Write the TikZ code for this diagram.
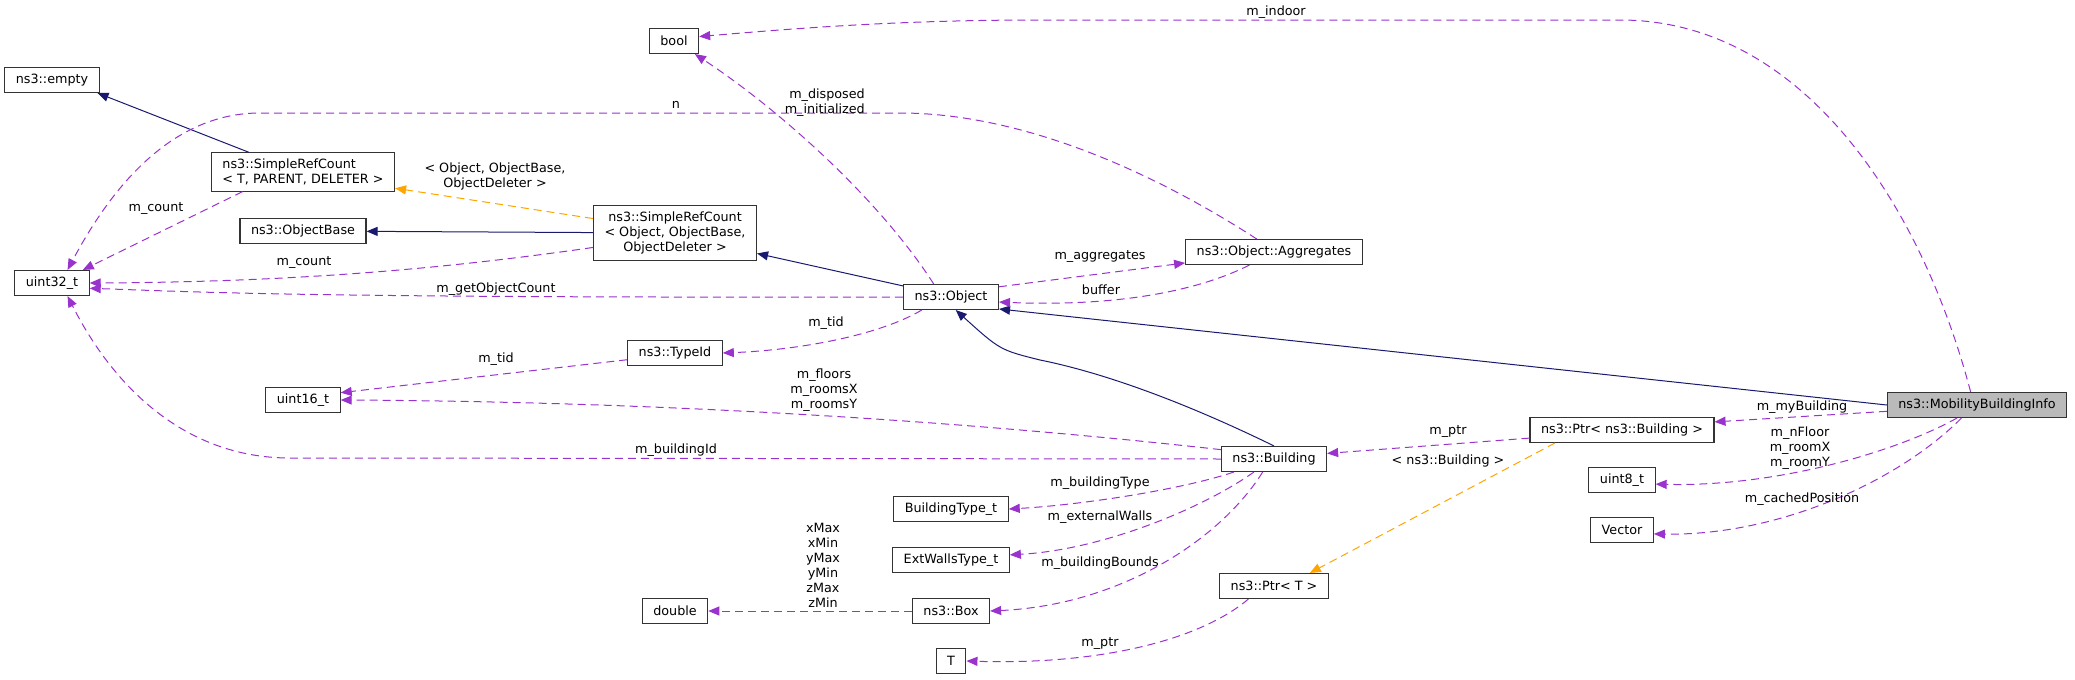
\documentclass[tikz,border=0pt]{standalone}
\usepackage{fontspec}
\setmainfont{DejaVu Sans}
\usetikzlibrary{arrows.meta}
\definecolor{memberpurple}{HTML}{9A32CD}
\definecolor{inheritnavy}{HTML}{191970}
\definecolor{tmplorange}{HTML}{FFA500}
\tikzset{
  cls/.style={draw=black!80, line width=1.1pt, fill=white, inner xsep=11pt, inner ysep=6pt,
    minimum height=25pt, font=\fontsize{12.75}{15}\selectfont},
  lbl/.style={inner sep=0pt, align=center, font=\fontsize{12.75}{15}\selectfont},
  tip/.style={-{Triangle[length=11pt,width=9pt]}},
  member/.style={tip, draw=memberpurple, line width=1pt, dash pattern=on 8pt off 5pt},
  inherit/.style={tip, draw=inheritnavy, line width=1pt},
  tmpl/.style={tip, draw=tmplorange, line width=1pt, dash pattern=on 8pt off 5pt}
}
\begin{document}
\begin{tikzpicture}[x=1pt,y=-1pt]
        \useasboundingbox (0,0) rectangle (2075,680);
        % classes
        \node[cls] (bool) at (674,41) {bool};
        \node[cls] (empty) at (52,80) {ns3::empty};
        \node[cls, align=left] (srcT) at (303,172) {ns3::SimpleRefCount\\< T, PARENT, DELETER >};
        \node[cls] (objbase) at (303,231) {ns3::ObjectBase};
        \node[cls] (uint32) at (52,283) {uint32\_t};
        \node[cls, align=center] (srcO) at (675,233) {ns3::SimpleRefCount\\< Object, ObjectBase,\\ObjectDeleter >};
        \node[cls] (aggr) at (1274,252) {ns3::Object::Aggregates};
        \node[cls] (object) at (951,297) {ns3::Object};
        \node[cls] (typeid) at (675,353) {ns3::TypeId};
        \node[cls] (uint16) at (303,400) {uint16\_t};
        \node[cls] (building) at (1274,459) {ns3::Building};
        \node[cls] (ptrB) at (1622,430) {ns3::Ptr< ns3::Building >};
        \node[cls, fill=black!27] (mbi) at (1977,405) {ns3::MobilityBuildingInfo};
        \node[cls] (uint8) at (1622,480) {uint8\_t};
        \node[cls] (vector) at (1622,530) {Vector};
        \node[cls] (btype) at (951,509) {BuildingType\_t};
        \node[cls] (walls) at (951,560) {ExtWallsType\_t};
        \node[cls] (double) at (675,611) {double};
        \node[cls] (box) at (951,611) {ns3::Box};
        \node[cls] (ptrT) at (1274,586) {ns3::Ptr< T >};
        \node[cls] (T) at (951,661) {T};
        % inheritance
        \draw[inherit] (srcT.160) -- (empty.-16);
        \draw[inherit] (srcO) -- (objbase);
        \draw[inherit] (object.167) -- (srcO.-14);
        \draw[inherit] (building.north) .. controls (1180,400) and (1100,372) .. (1040,360) .. controls (1000,350) .. (object.-70);
        \draw[inherit] (mbi.west) -- (object.-14);
        % templates
        \draw[tmpl] (srcO.170) -- (srcT.-10);
        \draw[tmpl] (ptrB.191) -- (ptrT.20);
        % members
        \coordinate (nturn) at (260,113);
        \coordinate (bidturn) at (290,458);
        \coordinate (indoorturn) at (1620,20);
        \draw[member] (srcT.198) -- (uint32.23);
        \draw[member] (srcO.190) .. controls (450,268) and (300,282) .. (uint32.east);
        \draw[member] (object.west) .. controls (300,298) and (200,292) .. (uint32.-8);
        \draw[member] (aggr.143) .. controls (1150,170) and (1020,113) .. (900,113) -- (nturn) .. controls (170,113) and (110,190) .. (uint32.40);
        \draw[member] (object.143) .. controls (880,200) and (780,110) .. (bool.-32);
        \draw[member] (mbi.116) .. controls (1920,200) and (1800,20) .. (indoorturn) -- (1040,20) .. controls (900,20) and (800,28) .. (bool.10);
        \draw[member] (object.12) -- (aggr.187);
        \draw[member] (aggr.208) .. controls (1200,290) and (1120,307) .. (object.-6);
        \draw[member] (object.204) .. controls (880,335) and (800,350) .. (typeid.east);
        \draw[member] (typeid.188) -- (uint16.11);
        \draw[member] (building.170) .. controls (1000,425) and (700,402) .. (uint16.east);
        \draw[member] (building.west) -- (bidturn) .. controls (180,458) and (110,380) .. (uint32.-40);
        \draw[member] (building.198) .. controls (1180,490) and (1080,505) .. (btype.east);
        \draw[member] (building.213) .. controls (1200,510) and (1100,550) .. (walls.5);
        \draw[member] (building.229) .. controls (1220,540) and (1120,605) .. (box.east);
        \draw[member] (box) -- (double);
        \draw[member] (ptrT.207) .. controls (1200,640) and (1100,665) .. (T.east);
        \draw[member] (ptrB.185) -- (building.6);
        \draw[member] (mbi.184) -- (ptrB.5);
        \draw[member] (mbi.213) .. controls (1900,450) and (1780,487) .. (uint8.-7);
        \draw[member] (mbi.220) .. controls (1900,480) and (1780,536) .. (vector.-7);
        % labels
        \node[lbl] (lcount1) at (156,209) {m\_count};
        \node[lbl] (lcount2) at (304,263) {m\_count};
        \node[lbl] (lgetcount) at (496,289) {m\_getObjectCount};
        \node[lbl] (ln) at (676,105) {n};
        \node[lbl] (ltmpl1) at (495,176) {< Object, ObjectBase,\\ObjectDeleter >};
        \node[lbl, align=right, anchor=east] (ldisposed) at (865,103) {m\_disposed\\m\_initialized};
        \node[lbl] (ltid1) at (826,323) {m\_tid};
        \node[lbl] (ltid2) at (496,359) {m\_tid};
        \node[lbl] (lfloors) at (824,390) {m\_floors\\m\_roomsX\\m\_roomsY};
        \node[lbl] (lbid) at (676,450) {m\_buildingId};
        \node[lbl] (laggr) at (1100,257) {m\_aggregates};
        \node[lbl] (lbuffer) at (1101,290) {buffer};
        \node[lbl] (lindoor) at (1276,12) {m\_indoor};
        \node[lbl] (lbtype) at (1100,483) {m\_buildingType};
        \node[lbl] (lwalls) at (1100,517) {m\_externalWalls};
        \node[lbl] (lbounds) at (1100,563) {m\_buildingBounds};
        \node[lbl] (lptrT) at (1100,644) {m\_ptr};
        \node[lbl] (lbox) at (823,565) {xMax\\xMin\\yMax\\yMin\\zMax\\zMin};
        \node[lbl] (lptrB) at (1448,432) {m\_ptr};
        \node[lbl] (ltmpl2) at (1448,461) {< ns3::Building >};
        \node[lbl] (lmybld) at (1802,407) {m\_myBuilding};
        \node[lbl] (lnfloor) at (1800,448) {m\_nFloor\\m\_roomX\\m\_roomY};
        \node[lbl] (lcached) at (1802,499) {m\_cachedPosition};
\end{tikzpicture}
\end{document}
